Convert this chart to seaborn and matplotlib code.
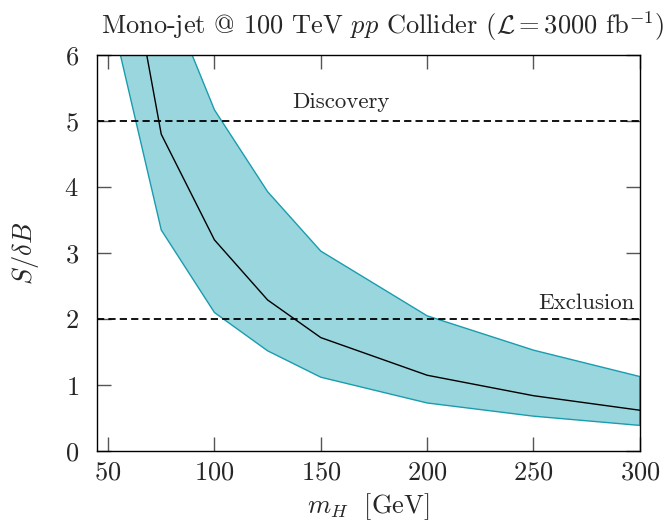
import numpy as np
import pandas as pd
import seaborn as sns
import matplotlib.pyplot as plt

# signal significance vs Higgs mass
m_h = [50, 75, 100, 125, 150, 200, 250, 300]
central = [9.2, 4.8, 3.2, 2.29, 1.72, 1.15, 0.84, 0.62]
upper = [12.0, 7.15, 5.17, 3.93, 3.03, 2.05, 1.53, 1.13]
lower = [6.8, 3.35, 2.1, 1.52, 1.12, 0.73, 0.53, 0.39]

x_ticks = [50, 100, 150, 200, 250, 300]
y_ticks = [0, 1, 2, 3, 4, 5, 6]
discovery = 5
exclusion = 2

df = pd.DataFrame({'m_h': m_h, 'central': central})

sns.set_style('ticks')
plt.rcParams['font.family'] = ['cmr10', 'DejaVu Serif']
plt.rcParams['mathtext.fontset'] = 'cm'
plt.rcParams['axes.formatter.use_mathtext'] = True

fig = plt.figure(figsize=(6.7, 5.24), dpi=100)
ax = fig.add_axes([0.1448, 0.139, 0.8102, 0.756])

ax.fill_between(m_h, lower, upper, facecolor='#9AD6DE', edgecolor='#1A9CAE', linewidth=1.0, zorder=1)
sns.lineplot(data=df, x='m_h', y='central', color='black', linewidth=1.0, ax=ax, zorder=2)

ax.axhline(discovery, color='black', linestyle=(0, (4, 2.3)), linewidth=1.3, zorder=3)
ax.axhline(exclusion, color='black', linestyle=(0, (4, 2.3)), linewidth=1.3, zorder=3)
ax.text(159.5, 5.2, 'Discovery', ha='center', va='baseline', fontsize=16.5)
ax.text(297.5, 2.15, 'Exclusion', ha='right', va='baseline', fontsize=16.5)

ax.set_xlim(44.8, 300)
ax.set_ylim(0, 6)
ax.set_xticks(x_ticks)
ax.set_yticks(y_ticks)
ax.tick_params(direction='in', top=True, right=True, length=10, width=1.0,
               color='#555555', labelsize=19)
ax.tick_params(axis='x', pad=7)
ax.tick_params(axis='y', pad=13)
for s in ax.spines.values():
    s.set_linewidth(1.0)
    s.set_color('black')

ax.set_xlabel(r'$m_H\ $ [GeV]', fontsize=19, labelpad=5)
ax.set_ylabel(r'$S/\delta B$', fontsize=19, labelpad=17)
ax.set_title(r'Mono-jet @ 100 TeV $pp$ Collider ($\mathcal{L} = 3000$ fb$^{-1}$)',
             fontsize=19, pad=15, x=0.527)

fig.savefig('out.png', dpi=100)
